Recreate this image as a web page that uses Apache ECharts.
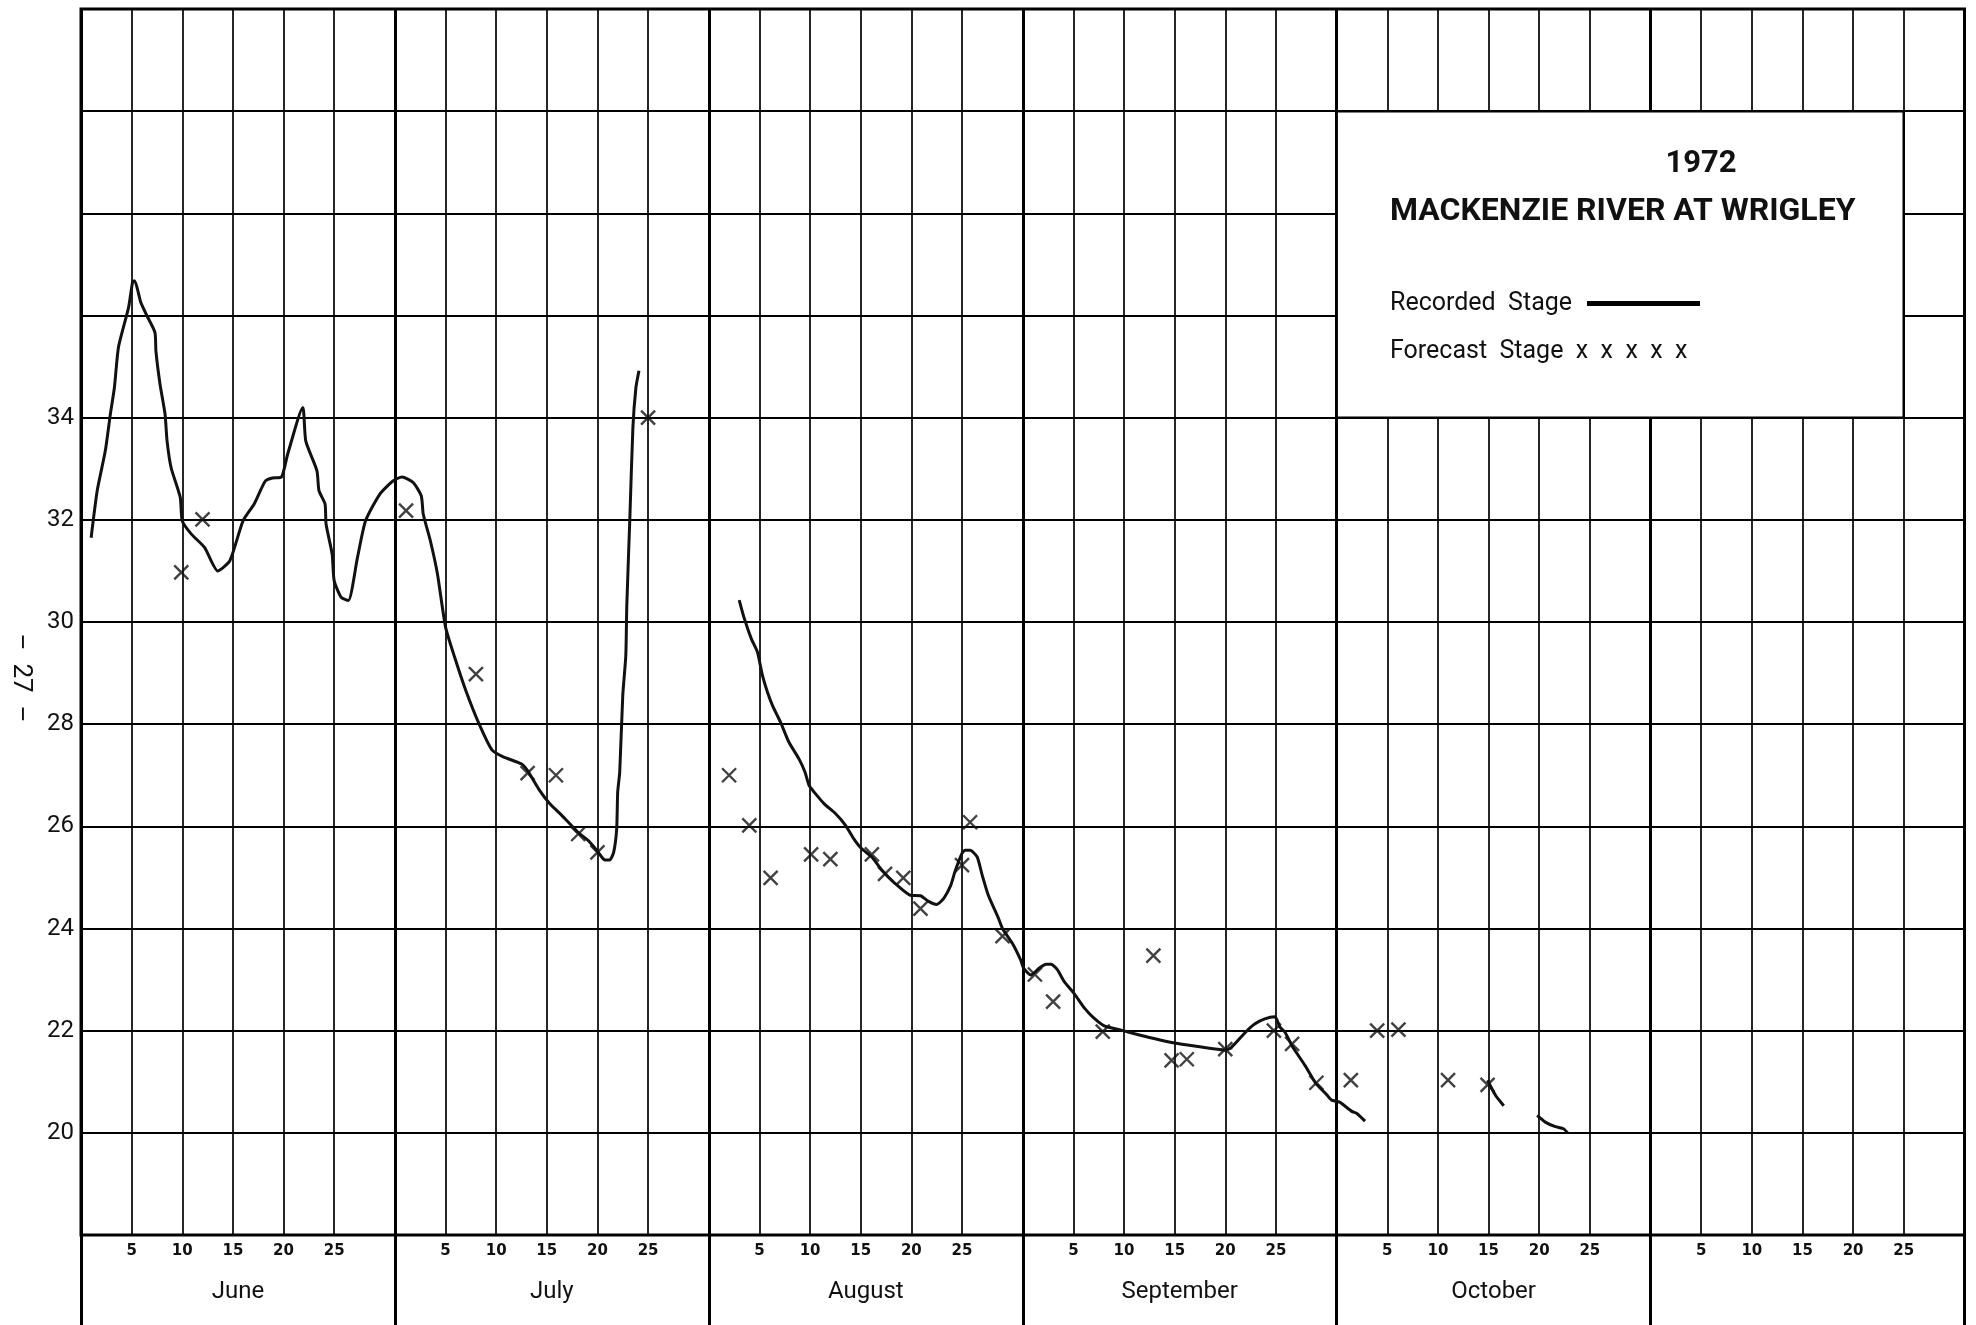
<!DOCTYPE html>
<html>
<head>
<meta charset="utf-8">
<title>Mackenzie River at Wrigley 1972</title>
<script src="https://cdn.jsdelivr.net/npm/echarts@6/dist/echarts.min.js"></script>
<style>
    html, body { margin: 0; padding: 0; background: #fff; }
    #chart { width: 1976px; height: 1325px; }
</style>
</head>
<body>
<div id="chart"></div>
<script>
// x = chart day: every month panel is 31 units wide (June 0-31, July 31-62, ...)
const months = ['June', 'July', 'August', 'September', 'October', ''];
const monthLen = 31;
const dayTicks = [5, 10, 15, 20, 25];
const stageLabels = [20, 22, 24, 26, 28, 30, 32, 34];

// recorded stage (ft), null = gap in record
const recDays = [
    1.0, 1.6, 2.4, 2.9, 3.3, 3.7, 4.7, 5.1, 5.3, 5.9, 6.5, 7.3, 7.4, 7.8, 8.3, 8.5, 8.9, 9.8, 10.0, 10.9,
    12.2, 13.5, 14.7, 16.0, 17.1, 18.2, 18.9, 19.8, 20.4, 21.9, 22.2, 23.3, 23.5, 24.1, 24.2, 24.8, 25.0, 25.7, 26.4, 27.3,
    28.1, 29.5, 30.8, 31.7, 32.8, 33.6, 33.8, 34.5, 35.2, 36.0, 36.9, 38.0, 39.3, 40.6, 41.7, 43.5, 44.1, 45.2, 46.3, 47.5,
    49.1, 50.1, 51.1, 51.7, 52.2, 52.6, 52.9, 53.0, 53.2, 53.5, 53.8, 53.9, 54.2, 54.5, 54.8, 55.1,
    60,
    65.0, 65.5, 66.2, 66.8, 67.3, 67.8, 68.3, 69.1, 69.9, 70.9, 71.5, 71.9, 72.4, 73.4, 74.5, 75.5, 76.3, 77.1, 78.1, 79.1,
    80.4, 81.9, 82.9, 83.7, 84.5, 85.2, 85.9, 86.3, 87.0, 87.3, 87.8, 88.5, 89.0, 89.6, 90.6, 91.0, 92.0, 92.8, 93.1, 93.8,
    94.6, 95.3, 95.8, 96.4, 97.1, 98.1, 99.1, 99.9, 101.0, 102.9, 105.4, 107.7, 110.3, 113.0, 113.6, 115.0, 115.9, 116.9, 117.9, 118.4,
    118.9, 119.6, 120.9, 121.9, 123.0, 123.5, 124.3, 125.5, 126.0, 126.8,
    130,
    138.9, 139.7, 140.5,
    142,
    143.8, 144.6, 145.6, 146.4, 146.8
];
const recStage = [
    31.65, 32.57, 33.35, 34.07, 34.59, 35.38, 36.16, 36.66, 36.68, 36.26, 36.0, 35.67, 35.3, 34.66, 34.07, 33.54, 33.02, 32.44, 31.98, 31.72,
    31.46, 31.0, 31.2, 31.98, 32.31, 32.76, 32.82, 32.84, 33.28, 34.2, 33.54, 32.96, 32.57, 32.31, 31.92, 31.33, 30.81, 30.48, 30.42, 31.26,
    31.98, 32.5, 32.76, 32.84, 32.73, 32.47, 32.11, 31.59, 30.94, 29.9, 29.31, 28.66, 28.01, 27.49, 27.36, 27.22, 27.09, 26.73, 26.44, 26.21,
    25.88, 25.72, 25.49, 25.34, 25.34, 25.49, 25.95, 26.67, 27.06, 28.56, 29.34, 30.33, 32.03, 33.8, 34.59, 34.92,
    null,
    30.43, 30.07, 29.67, 29.41, 28.95, 28.62, 28.36, 28.03, 27.65, 27.32, 27.06, 26.8, 26.67, 26.44, 26.25, 26.02, 25.76, 25.56, 25.4, 25.14,
    24.88, 24.65, 24.64, 24.53, 24.47, 24.59, 24.85, 25.11, 25.47, 25.53, 25.53, 25.4, 25.04, 24.65, 24.2, 24.0, 23.7, 23.38, 23.22, 23.09,
    23.22, 23.3, 23.3, 23.2, 22.96, 22.72, 22.44, 22.27, 22.1, 22.0, 21.87, 21.77, 21.69, 21.62, 21.67, 21.97, 22.13, 22.23, 22.27, 22.07,
    21.97, 21.7, 21.31, 20.98, 20.75, 20.64, 20.6, 20.42, 20.38, 20.23,
    null,
    21.03, 20.73, 20.53,
    null,
    20.34, 20.21, 20.12, 20.08, 20.0
];

// forecast stage (x marks)
const fcDays = [
    9.9, 12.0, 32.1, 39.0, 44.1, 46.9, 49.1, 51.0, 56.0,
    64.0, 66.0, 68.1, 72.1, 74.0, 78.1, 79.4, 81.2, 82.9, 87.0, 87.8, 91.0,
    94.2, 96.0, 100.9, 105.9, 107.7, 109.2, 113.0, 117.8, 119.6, 122.0,
    125.4, 128.0, 130.1, 135.0, 138.9
];
const fcStage = [
    30.97, 32.01, 32.18, 28.98, 27.04, 27.0, 25.85, 25.49, 34.0,
    27.0, 26.02, 24.99, 25.45, 25.36, 25.45, 25.07, 24.99, 24.39, 25.24, 26.08, 23.85,
    23.1, 22.57, 21.98, 23.47, 21.42, 21.44, 21.64, 22.0, 21.74, 20.98,
    21.03, 22.0, 22.02, 21.03, 20.94
];

const xMax = months.length * monthLen;
const dayTickVals = months.flatMap((m, i) => dayTicks.map(d => i * monthLen + d));
const monthMids = months.map((m, i) => i * monthLen + monthLen / 2);

const chart = echarts.init(document.getElementById('chart'));

const grid = { left: 81, right: 11.5, top: 9, bottom: 90 };

const option = {
    animation: false,
    backgroundColor: '#fff',
    grid: [
        Object.assign({ show: true, borderColor: '#000', borderWidth: 3 }, grid),
        { left: grid.left, right: grid.right, top: 1235, bottom: 0 }
    ],
    xAxis: [
        {   // day lines and day numbers
            type: 'value', gridIndex: 0, min: 0, max: xMax, position: 'bottom',
            axisLine: { show: false },
            axisTick: { show: false, customValues: dayTickVals },
            splitLine: { show: true, lineStyle: { color: '#000', width: 1.7 } },
            axisLabel: {
                customValues: dayTickVals,
                formatter: v => String(Math.round(v % monthLen)),
                fontFamily: 'DejaVu Sans', fontWeight: 'bold', fontSize: 15, color: '#111', margin: 9
            }
        },
        {   // month boundaries
            type: 'value', gridIndex: 0, min: 0, max: xMax, interval: monthLen,
            axisLine: { show: false }, axisTick: { show: false }, axisLabel: { show: false },
            splitLine: { show: true, lineStyle: { color: '#000', width: 3 } }
        },
        {   // month names
            type: 'value', gridIndex: 0, min: 0, max: xMax, position: 'bottom',
            axisLine: { show: false }, axisTick: { show: false }, splitLine: { show: false },
            axisLabel: {
                customValues: monthMids,
                formatter: v => months[Math.floor(v / monthLen)],
                fontFamily: 'Roboto', fontSize: 24, color: '#111', margin: 45
            }
        },
        {   // month boundaries continued through the label band
            type: 'value', gridIndex: 1, min: 0, max: xMax, interval: monthLen,
            axisLine: { show: false }, axisTick: { show: false }, axisLabel: { show: false },
            splitLine: { show: true, lineStyle: { color: '#000', width: 3 } }
        }
    ],
    yAxis: [
        {
            type: 'value', gridIndex: 0, min: 18, max: 42, interval: 2,
            axisLine: { show: false }, axisTick: { show: false },
            splitLine: { show: true, lineStyle: { color: '#000', width: 2 } },
            axisLabel: {
                formatter: v => stageLabels.includes(v) ? String(v) : '',
                fontFamily: 'Roboto', fontSize: 24, color: '#111', margin: 7
            }
        },
        { type: 'value', gridIndex: 1, show: false, min: 0, max: 1 }
    ],
    series: [
        {
            name: 'Recorded Stage',
            type: 'line',
            xAxisIndex: 0, yAxisIndex: 0,
            data: recDays.map((d, i) => [d, recStage[i]]),
            showSymbol: false,
            connectNulls: false,
            smooth: 0.2,
            lineStyle: { color: '#111', width: 3 },
            z: 4,
            markArea: {
                silent: true,
                label: { show: false },
                itemStyle: { color: '#fff', borderColor: '#000', borderWidth: 2.5 },
                data: [[{ xAxis: 4 * monthLen, yAxis: 34 }, { xAxis: 5 * monthLen + 25, yAxis: 40 }]]
            }
        },
        {
            name: 'Forecast Stage',
            type: 'scatter',
            xAxisIndex: 0, yAxisIndex: 0,
            data: fcDays.map((d, i) => [d, fcStage[i]]),
            symbol: 'path://M0,0L10,10M10,0L0,10',
            symbolSize: 14,
            itemStyle: { color: 'rgba(0,0,0,0)', borderColor: '#111', borderWidth: 2.4 },
            z: 5
        }
    ],
    graphic: [
        {
            type: 'text', x: 1701, y: 164, z: 100,
            style: { text: '1972', font: 'bold 31px Roboto', fill: '#111', textAlign: 'center', textVerticalAlign: 'middle' }
        },
        {
            type: 'text', x: 1390, y: 212, z: 100,
            style: { text: 'MACKENZIE RIVER AT WRIGLEY', font: 'bold 32px Roboto', fill: '#111', textAlign: 'left', textVerticalAlign: 'middle' }
        },
        {
            type: 'text', x: 1390, y: 304, z: 100,
            style: { text: 'Recorded  Stage', font: '25px Roboto', fill: '#111', textAlign: 'left', textVerticalAlign: 'middle' }
        },
        {
            type: 'line', z: 100,
            shape: { x1: 1587, y1: 303.5, x2: 1700, y2: 303.5 },
            style: { stroke: '#000', lineWidth: 5 }
        },
        {
            type: 'text', x: 1390, y: 352, z: 100,
            style: { text: 'Forecast  Stage  x  x  x  x  x', font: '25px Roboto', fill: '#111', textAlign: 'left', textVerticalAlign: 'middle' }
        },
        {
            type: 'text', x: 20, y: 678, rotation: -Math.PI / 2, z: 100,
            style: { text: '\u2013  27  \u2013', font: '26px Roboto', fill: '#111', textAlign: 'center', textVerticalAlign: 'middle' }
        }
    ]
};

chart.setOption(option);
</script>
</body>
</html>
